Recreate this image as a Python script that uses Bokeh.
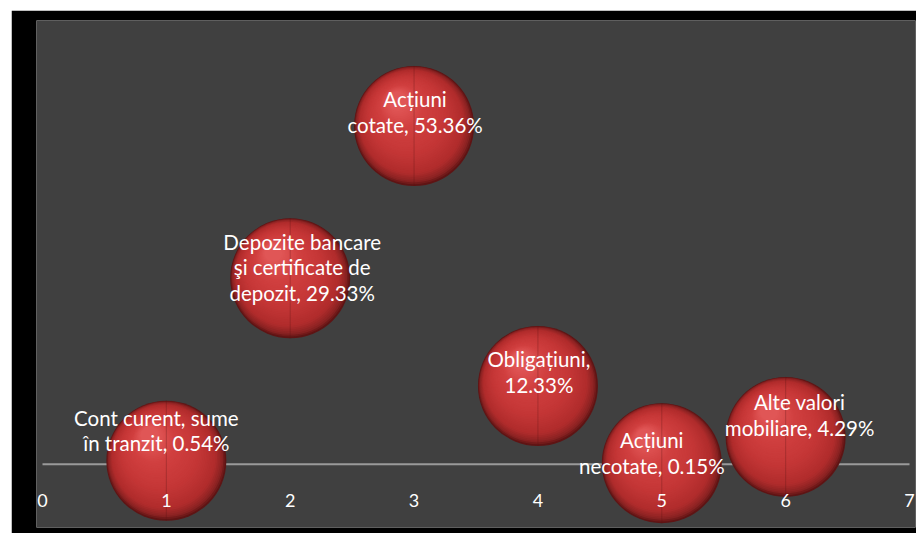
from bokeh.plotting import figure
from bokeh.models import Range1d, ColumnDataSource
from bokeh.core.properties import value
from bokeh.embed import file_html
from bokeh.resources import INLINE

# ---- data ----
categories = ["Cont curent, sume în tranzit", "Depozite bancare şi certificate de depozit",
              "Acțiuni cotate", "Obligațiuni", "Acțiuni necotate", "Alte valori mobiliare"]
x_vals = [1, 2, 3, 4, 5, 6]
y_vals = [0.54, 29.33, 53.36, 12.33, 0.15, 4.29]
labels = ["Cont curent, sume\nîn tranzit, 0.54%",
          "Depozite bancare\nşi certificate de\ndepozit, 29.33%",
          "Acțiuni\ncotate, 53.36%",
          "Obligațiuni,\n12.33%",
          "Acțiuni\nnecotate, 0.15%",
          "Alte valori\nmobiliare, 4.29%"]
x_ticks = [0, 1, 2, 3, 4, 5, 6, 7]
x_tick_labels = ["0", "1", "2", "3", "4", "5", "6", "7"]

# ---- style ----
label_dx = [-10, 12, 1, 1, -10, 14]
label_dy = [-30, -11, -14, -14, -10, -22]
R = 60  # bubble radius in screen px

XMIN, XMAX = 0, 7
YMIN, YMAX = -10, 70
ppx = 867 / (XMAX - XMIN)
ppy = 507 / (YMAX - YMIN)
pad = 6 / ppx

p = figure(width=905, height=523, x_range=Range1d(XMIN - pad, XMAX + pad), y_range=Range1d(YMIN, YMAX),
           output_backend="svg", toolbar_location=None,
           x_axis_location=None, y_axis_location=None,
           background_fill_color="#404040", border_fill_color="black",
           min_border_left=25, min_border_right=1, min_border_top=10, min_border_bottom=6,
           outline_line_color=None)
p.margin = (10, 0, 0, 11)
p.grid.visible = False

# axis line beneath the bubbles
p.segment(x0=[min(x_ticks)], y0=[0], x1=[max(x_ticks)], y1=[0],
          line_color="#9a9a9a", line_width=2)

# sphere shading layers
def hexc(c):
    return tuple(int(c[i:i + 2], 16) for i in (1, 3, 5))

stops = [(0.0, "#5e1414"), (0.05, "#8a2222"), (0.15, "#b02c2c"), (0.4, "#c43636"),
         (0.75, "#d14040"), (1.0, "#e05656")]

def color_at(t):
    for (t0, c0), (t1, c1) in zip(stops[:-1], stops[1:]):
        if t <= t1:
            f = (t - t0) / (t1 - t0) if t1 > t0 else 0
            a, b = hexc(c0), hexc(c1)
            return "#%02x%02x%02x" % tuple(int(round(a[k] + (b[k] - a[k]) * f)) for k in range(3))
    return stops[-1][1]

N = 45
dirx, diry = -0.55, -0.83  # toward upper-left (screen)
for i in range(N):
    t = i / (N - 1)
    r = R * (1 - 0.85 * t)
    d = (R - r) * 0.6
    ox, oy = dirx * d, diry * d
    xs = [x + ox / ppx for x in x_vals]
    ys = [y - oy / ppy for y in y_vals]
    p.scatter(xs, ys, size=2 * r, marker="circle", fill_color=color_at(t), line_color=None)

# faint vertical seam
p.segment(x0=x_vals, y0=[y - R / ppy for y in y_vals], x1=x_vals, y1=[y + R / ppy for y in y_vals],
          line_color="#5a1414", line_alpha=0.3, line_width=1)

src = ColumnDataSource(dict(x=x_vals, y=y_vals, text=labels, dx=label_dx, dy=label_dy))
p.text(x="x", y="y", text="text", source=src, x_offset="dx", y_offset="dy",
       text_align="center", text_baseline="middle", text_color="white",
       text_font=value("Lato"), text_font_size="20.5px", text_line_height=1.06)

# x-axis tick labels, placed under the axis line at y = 0
p.text(x=x_ticks, y=[0] * len(x_ticks), text=x_tick_labels, y_offset=36,
       text_align="center", text_baseline="middle", text_color="white",
       text_font=value("Lato"), text_font_size="18px")

open("out.html", "w").write(file_html(p, INLINE))
